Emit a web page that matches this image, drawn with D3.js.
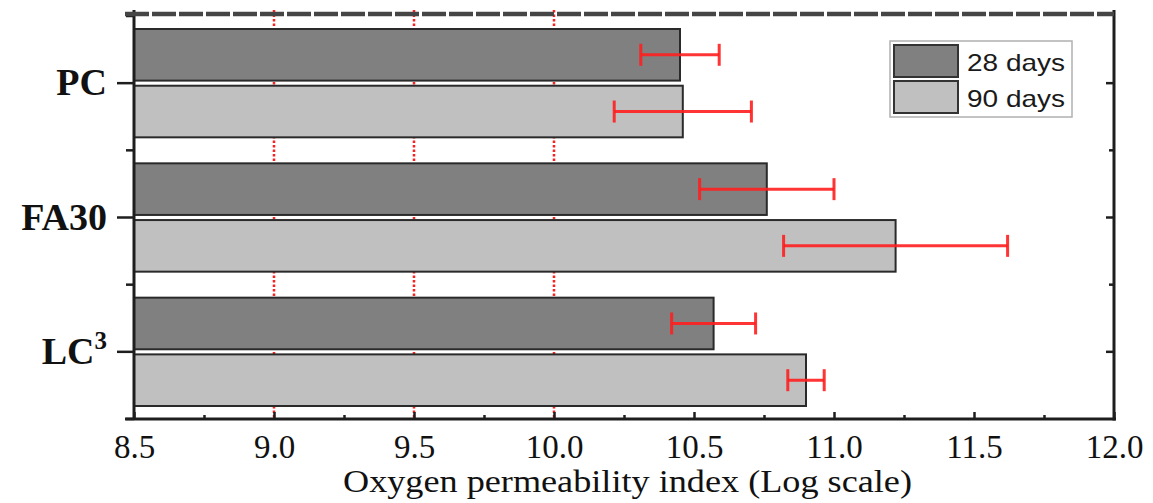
<!DOCTYPE html>
<html>
<head>
<meta charset="utf-8">
<script src="https://cdn.jsdelivr.net/npm/d3@7"></script>
<style>
  body { margin: 0; background: #fff; }
  svg { display: block; }
  .serif { font-family: "Liberation Serif", "Times New Roman", Times, serif; }
  .sans { font-family: "Liberation Sans", Arial, Helvetica, sans-serif; }
</style>
</head>
<body>
<div id="chart"></div>
<script>
// mixes and curing ages
const mixes = ["PC", "FA30", "LC3"];
const ages = ["28 days", "90 days"];

// oxygen permeability index (log scale), mean and +/- spread
const opi28 = [10.45, 10.76, 10.57];
const opi90 = [10.46, 11.22, 10.90];
const err28 = [0.14, 0.24, 0.15];
const err90 = [0.245, 0.40, 0.065];

const xTicks = [8.5, 9.0, 9.5, 10.0, 10.5, 11.0, 11.5, 12.0];
const xMinor = [8.75, 9.25, 9.75, 10.25, 10.75, 11.25, 11.75];
const refLines = [9.0, 9.5, 10.0];

const W = 1153, H = 503;
const margin = {top: 16, right: 39, bottom: 84, left: 134};
const width = W - margin.left - margin.right,
      height = H - margin.top - margin.bottom;

const svg = d3.select("#chart")
  .append("svg")
    .attr("width", W)
    .attr("height", H)
  .append("g")
    .attr("transform", `translate(${margin.left}, ${margin.top})`);

const data = [];
mixes.forEach((m, i) => {
  data.push({mix: m, age: ages[0], value: opi28[i], err: err28[i]});
  data.push({mix: m, age: ages[1], value: opi90[i], err: err90[i]});
});

// scales
const x = d3.scaleLinear()
  .domain([8.5, 12.0])
  .range([0, width]);

const y = d3.scaleBand()
  .domain(mixes)
  .range([0, height]);

const ySub = d3.scaleBand()
  .domain(ages)
  .range([13, y.bandwidth() - 13])
  .paddingInner(0.09);

const fill = d3.scaleOrdinal()
  .domain(ages)
  .range(["#808080", "#c0c0c0"]);

// red dotted reference lines
svg.selectAll(".ref")
  .data(refLines)
  .join("line")
    .attr("class", "ref")
    .attr("x1", d => x(d))
    .attr("x2", d => x(d))
    .attr("y1", -6)
    .attr("y2", height)
    .attr("stroke", "#ff1f1f")
    .attr("stroke-width", 2.5)
    .attr("stroke-dasharray", "2.5,2");

// bars
svg.selectAll(".bar")
  .data(data)
  .join("rect")
    .attr("class", "bar")
    .attr("x", x(8.5))
    .attr("y", d => y(d.mix) + ySub(d.age))
    .attr("width", d => x(d.value) - x(8.5))
    .attr("height", ySub.bandwidth())
    .attr("fill", d => fill(d.age))
    .attr("stroke", "#2a2a2a")
    .attr("stroke-width", 2);

// error bars
const eb = svg.selectAll(".err")
  .data(data)
  .join("g")
    .attr("class", "err")
    .attr("transform", d => `translate(0, ${y(d.mix) + ySub(d.age) + ySub.bandwidth() / 2})`)
    .attr("stroke", "#ff1e1e")
    .attr("stroke-opacity", 0.9)
    .attr("stroke-width", 3);

eb.append("line")
  .attr("x1", d => x(d.value - d.err))
  .attr("x2", d => x(d.value + d.err))
  .attr("y1", 0).attr("y2", 0);

eb.selectAll(".cap")
  .data(d => [d.value - d.err, d.value + d.err])
  .join("line")
    .attr("class", "cap")
    .attr("x1", v => x(v)).attr("x2", v => x(v))
    .attr("y1", -11).attr("y2", 11);

// bottom axis, ticks pointing inwards
const xAxis = svg.append("g")
  .attr("transform", `translate(0, ${height})`)
  .call(d3.axisBottom(x).tickValues(xTicks).tickSize(-7).tickSizeOuter(0)
    .tickFormat(d3.format(".1f")));
xAxis.attr("font-family", null).attr("font-size", null);
xAxis.select(".domain").attr("stroke", "#1e1e1e").attr("stroke-width", 3)
  .attr("d", `M-9,0H${width + 2}`);
xAxis.selectAll(".tick line").attr("stroke", "#1e1e1e").attr("stroke-width", 2.5);
xAxis.selectAll(".tick text")
  .attr("class", "serif")
  .attr("y", 39)
  .attr("dy", null)
  .attr("fill", "#111")
  .style("font-size", "33px");

svg.append("g")
  .attr("transform", `translate(0, ${height})`)
  .call(d3.axisBottom(x).tickValues(xMinor).tickSize(-4).tickFormat(""))
  .call(g => g.select(".domain").remove())
  .selectAll(".tick line").attr("stroke", "#1e1e1e").attr("stroke-width", 2.5);

// left axis, category ticks outward
const yAxis = svg.append("g")
  .call(d3.axisLeft(y).tickSize(17).tickSizeOuter(0).tickFormat(""));
yAxis.select(".domain").attr("stroke", "#1e1e1e").attr("stroke-width", 3)
  .attr("d", `M0,-6V${height}`);
yAxis.selectAll(".tick line").attr("stroke", "#1e1e1e").attr("stroke-width", 2.5);

// minor ticks at category boundaries
const bounds = mixes.map(m => y(m)).concat([height - 0.001]);
svg.selectAll(".ybound")
  .data(bounds)
  .join("line")
    .attr("class", "ybound")
    .attr("x1", -8).attr("x2", 0)
    .attr("y1", d => d).attr("y2", d => d)
    .attr("stroke", "#1e1e1e")
    .attr("stroke-width", 2.5);

// category labels
const yLab = svg.selectAll(".ylab")
  .data(mixes)
  .join("text")
    .attr("class", "ylab serif")
    .attr("x", -27)
    .attr("y", d => y(d) + y.bandwidth() / 2 + 12)
    .attr("text-anchor", "end")
    .attr("fill", "#111")
    .style("font-weight", "bold")
    .style("font-size", "38px");
yLab.each(function(d) {
  const t = d3.select(this);
  if (d === "LC3") {
    t.append("tspan").text("LC");
    t.append("tspan").attr("dy", -15).style("font-size", "25px").text("3");
  } else {
    t.text(d);
  }
});

// right axis, ticks inward
const yRight = svg.append("g")
  .attr("transform", `translate(${width}, 0)`)
  .call(d3.axisRight(y).tickSize(-8).tickSizeOuter(0).tickFormat(""));
yRight.select(".domain").attr("stroke", "#1e1e1e").attr("stroke-width", 3)
  .attr("d", `M0,-6V${height + 1.5}`);
yRight.selectAll(".tick line").attr("stroke", "#1e1e1e").attr("stroke-width", 2.5);

svg.selectAll(".rbound")
  .data(bounds.slice(1, 3))
  .join("line")
    .attr("class", "rbound")
    .attr("x1", width - 5).attr("x2", width)
    .attr("y1", d => d).attr("y2", d => d)
    .attr("stroke", "#1e1e1e")
    .attr("stroke-width", 2.5);

// dashed top frame
svg.append("line")
  .attr("x1", -9).attr("x2", width)
  .attr("y1", -2).attr("y2", -2)
  .attr("stroke", "#454545")
  .attr("stroke-width", 4.5)
  .attr("stroke-dasharray", "24,3");

// axis title
svg.append("text")
  .attr("class", "serif")
  .attr("x", 343 - margin.left)
  .attr("y", 492 - margin.top)
  .attr("textLength", 569)
  .attr("lengthAdjust", "spacingAndGlyphs")
  .attr("fill", "#111")
  .style("font-size", "31px")
  .text("Oxygen permeability index (Log scale)");

// legend
const lg = svg.append("g")
  .attr("transform", `translate(${890 - margin.left}, ${41 - margin.top})`);
lg.append("rect")
  .attr("width", 182).attr("height", 76)
  .attr("fill", "#fff")
  .attr("stroke", "#b0b0b0")
  .attr("stroke-width", 1.5);
const li = lg.selectAll(".li")
  .data(ages)
  .join("g")
    .attr("class", "li")
    .attr("transform", (d, i) => `translate(4, ${4 + i * 36})`);
li.append("rect")
  .attr("width", 64).attr("height", 32)
  .attr("fill", d => fill(d))
  .attr("stroke", "#333")
  .attr("stroke-width", 2);
li.append("text")
  .attr("class", "sans")
  .attr("x", 73)
  .attr("y", 26)
  .attr("textLength", 98)
  .attr("lengthAdjust", "spacingAndGlyphs")
  .attr("fill", "#1a1a1a")
  .style("font-size", "24px")
  .text(d => d);
</script>
</body>
</html>
